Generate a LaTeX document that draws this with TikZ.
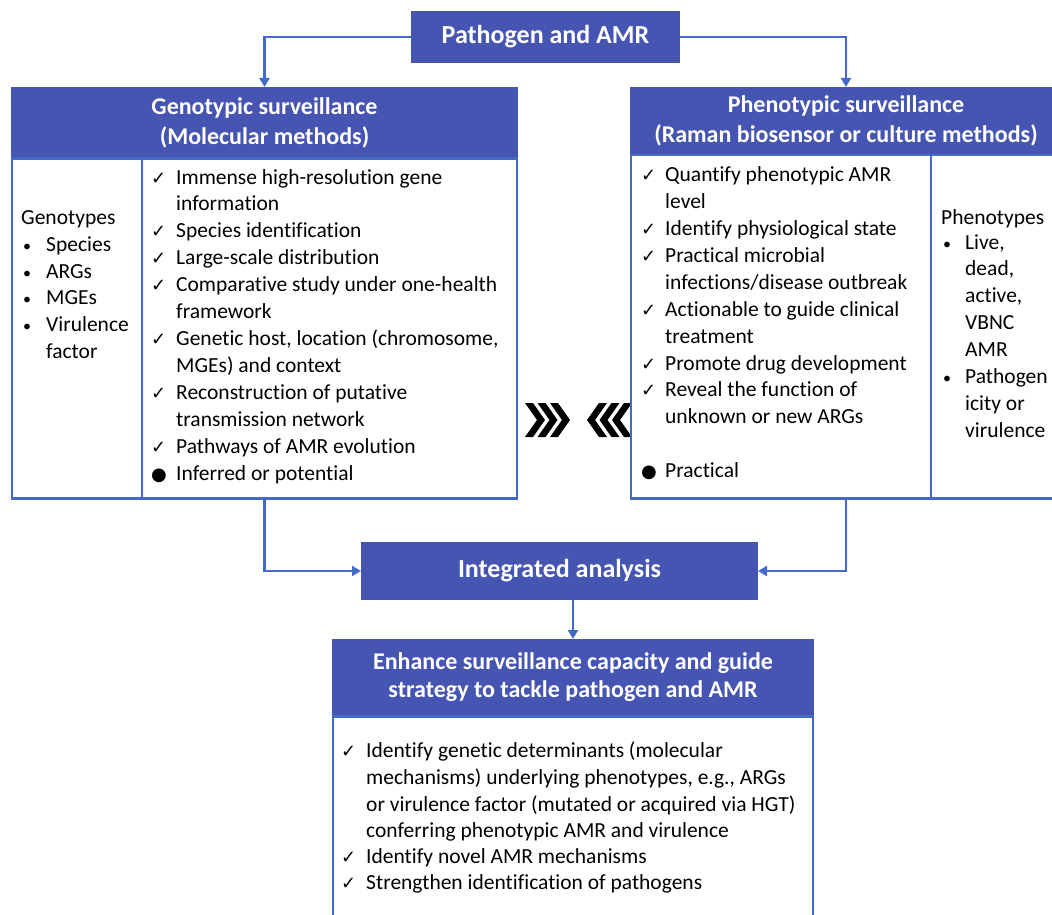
\documentclass[tikz,border=0pt]{standalone}
\usepackage{fontspec}
\setmainfont{Carlito}[Ligatures=NoCommon]
\newfontfamily\symf{DejaVu Sans}
\usetikzlibrary{arrows.meta}
\definecolor{hblue}{RGB}{70,84,178}
\definecolor{lblue}{RGB}{68,106,200}
\begin{document}
\begin{tikzpicture}[x=1pt,y=-1pt,
  hdr/.style={draw=hblue, fill=hblue, line width=2pt, text=white, align=center, inner sep=0pt,
    font=\bfseries\fontsize{24}{30}\selectfont},
  body/.style={draw=lblue, line width=2.5pt, inner sep=0pt},
  txt/.style={anchor=mid west, inner sep=0pt, font=\fontsize{21.5}{27}\selectfont},
  bul/.style={anchor=mid west, inner sep=0pt, font=\fontsize{16}{16}\selectfont},
  chk/.style={anchor=mid west, inner sep=0pt, font=\symf\fontsize{18}{18}\selectfont},
  dot/.style={anchor=mid west, inner sep=0pt, font=\symf\fontsize{18}{18}\selectfont},
  conn/.style={draw=lblue, line width=2.5pt, -{Triangle[length=9pt,width=10pt]}},
  chev/.style={fill=black, draw=none}]
\useasboundingbox (0,0) rectangle (1052,915);
\clip (0,0) rectangle (1052,915);
% chevrons
\foreach \x in {525,537.5,550}
  \fill[chev] (\x,403) -- (\x+8,403) -- (\x+20,420) -- (\x+8,437) -- (\x,437) -- (\x+12,420) -- cycle;
\foreach \x in {632,619.5,607}
  \fill[chev] (\x,403) -- (\x-8,403) -- (\x-20,420) -- (\x-8,437) -- (\x,437) -- (\x-12,420) -- cycle;
% boxes
\node[hdr, minimum width=267, minimum height=50, font=\bfseries\fontsize{26}{30}\selectfont] (path) at (545.5,37) {Pathogen and AMR};
\node[hdr, minimum width=505, minimum height=69] (gh) at (264.5,122.5) {Genotypic surveillance\\(Molecular methods)};
\node[body, minimum width=505, minimum height=340, anchor=north] (gb) at (264.5,157) {};
\draw[lblue, line width=2.5pt] (142,157) -- (142,497);
\node[hdr, minimum width=430, minimum height=66] (ph) at (846,121) {Phenotypic surveillance\\(Raman biosensor or culture methods)};
\node[body, minimum width=430, minimum height=343, anchor=north] (pb) at (846,154) {};
\draw[lblue, line width=2.5pt] (931,154) -- (931,497);
\node[hdr, minimum width=395, minimum height=56, font=\bfseries\fontsize{26}{30}\selectfont] (integ) at (559.5,571) {Integrated analysis};
\node[hdr, minimum width=480, minimum height=75, font=\bfseries\fontsize{24}{28}\selectfont] (eh) at (573,677.5) {Enhance surveillance capacity and guide\\strategy to tackle pathogen and AMR};
\node[body, minimum width=480, minimum height=230, anchor=north] (eb) at (573,715) {};
% connectors
\draw[conn] (path.west) -| (gh.north);
\draw[conn] (path.east) -| (ph.north);
\draw[conn] (gb.south) |- (integ.west);
\draw[conn] (pb.south) |- (integ.east);
\draw[conn] (integ.south -| eh.north) -- (eh.north);
% genotypes column
\node[txt] (gtyp) at (21,222) {Genotypes};
\foreach \n/\yy in {1/249,2/276,3/302,4/329}
  \node[bul] (gbul\n) at (23,\yy) {•};
\foreach \n/\yy/\t in {1/249/{Species},2/276/{ARGs},3/302/{MGEs},4/329/{Virulence},5/356/{factor}}
  \node[txt] (gl\n) at (46,\yy) {\t};
% genotypic list
\foreach \n/\yy in {1/182,2/235,3/262,4/289,5/343,6/397,7/451}
  \node[chk] (gc\n) at (151,\yy) {✓};
\node[dot] (gd) at (151,478) {●};
\foreach \n/\yy/\t in {1/182/{Immense high-resolution gene},2/208/{information},3/235/{Species identification},
  4/262/{Large-scale distribution},5/289/{Comparative study under one-health},6/316/{framework},
  7/343/{Genetic host, location (chromosome,},8/370/{MGEs) and context},9/397/{Reconstruction of putative},
  10/424/{transmission network},11/451/{Pathways of AMR evolution},12/478/{Inferred or potential}}
  \node[txt] (gt\n) at (176,\yy) {\t};
% phenotypic list
\foreach \n/\yy in {1/179,2/233,3/260,4/314,5/368,6/394}
  \node[chk] (pc\n) at (641,\yy) {✓};
\node[dot] (pd) at (641,475) {●};
\foreach \n/\yy/\t in {1/179/{Quantify phenotypic AMR},2/206/{level},3/233/{Identify physiological state},
  4/260/{Practical microbial},5/287/{infections/disease outbreak},6/314/{Actionable to guide clinical},
  7/341/{treatment},8/368/{Promote drug development},9/394/{Reveal the function of},
  10/421/{unknown or new ARGs},11/475/{Practical}}
  \node[txt] (pt\n) at (665,\yy) {\t};
% phenotypes column
\node[txt] (ptyp) at (941,222) {Phenotypes};
\node[bul] (pbul1) at (943,247) {•};
\node[bul] (pbul2) at (943,381) {•};
\foreach \n/\yy/\t in {1/247/{Live,},2/273/{dead,},3/300/{active,},4/327/{VBNC},5/354/{AMR},
  6/381/{Pathogen},7/408/{icity or},8/435/{virulence}}
  \node[txt] (pl\n) at (965,\yy) {\t};
% enhance list
\foreach \n/\yy in {1/755,2/861,3/887}
  \node[chk] (ec\n) at (341,\yy) {✓};
\foreach \n/\yy/\t in {1/755/{Identify genetic determinants (molecular},2/782/{mechanisms) underlying phenotypes, e.g., ARGs},
  3/809/{or virulence factor (mutated or acquired via HGT)},4/835/{conferring phenotypic AMR and virulence},
  5/861/{Identify novel AMR mechanisms},6/887/{Strengthen identification of pathogens}}
  \node[txt] (et\n) at (366,\yy) {\t};
\end{tikzpicture}
\end{document}
